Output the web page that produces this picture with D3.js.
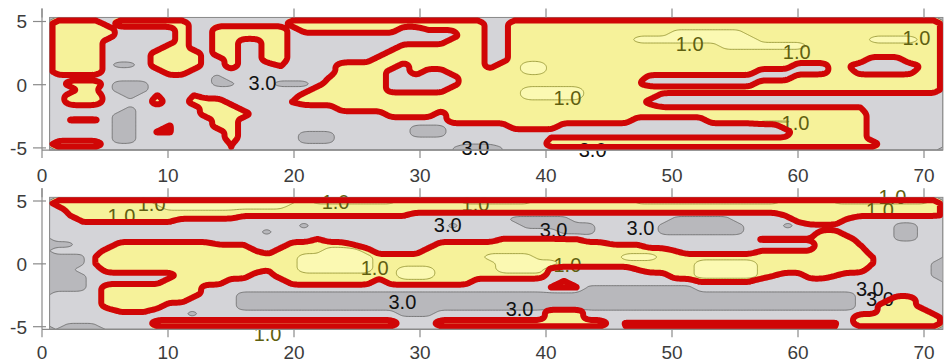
<!DOCTYPE html>
<html>
<head>
<meta charset="utf-8">
<script src="https://cdn.jsdelivr.net/npm/d3@7"></script>
<style>
  html, body { margin: 0; padding: 0; background: #fff; }
  svg { display: block; }
</style>
</head>
<body>
<div id="chart"></div>
<script>
// Two contour maps, x 0..72, y -5..5.
// Grid values: one digit per cell, value = digit / 2 (72 columns x 21 rows, top row first).
// Groups of ten columns are separated by spaces.
var topGrid = [
  "3333533333 3555555553 3333333333 3333355333 3333333333 3333333333 3333333333 33",
  "3333355555 3553333335 3333333355 4443355333 3333333333 3333333333 3333333333 33",
  "3333355555 3553333335 5555555555 5553355333 3333333333 1111113333 3333333333 33",
  "3333555555 3553355335 5555555555 5533355333 3333333111 1111111333 3333331111 33",
  "3333555553 3553355335 5555555533 3333355333 3333333333 3333111111 1333333333 33",
  "3333555533 3353355335 5555555333 3333355333 3333333333 3333333333 3333333333 33",
  "3333555533 3355355335 5555553333 3333355333 3333333333 3333333333 3333335553 33",
  "3333577533 3355355545 5553333353 3333353311 3333333333 3333333333 5553455555 43",
  "3333555553 3555555555 5553333553 5533333311 3333333333 3333333555 5553355555 33",
  "5555555555 5557555555 5543333555 5553333333 3333333355 5555555555 3333333333 33",
  "5333577755 5557755577 7533333555 5553333333 3333333455 5555555333 3333333333 33",
  "5534577755 5555555555 5333333555 5533333311 1113333333 3333333333 3333333333 33",
  "5333557545 5455555555 3333333333 3333333311 1113333335 5555555555 5555555555 55",
  "5333555535 5333555554 3333333333 3333333333 3333333355 5555555555 5555555555 55",
  "5555557555 5533355555 5553333333 3333333333 3333333334 4444444444 4444445555 55",
  "5555577555 5533335555 5555555333 3533333333 3333333333 3333333333 3333335555 55",
  "5444577555 5553355555 5555555555 5533333333 3333333555 5553333222 3333335555 55",
  "5555577554 5553355555 5555555557 7755555333 3555555555 5555555553 3333335555 55",
  "5555577544 5555355555 7775555557 7755555555 5555555555 5555555555 3333335555 55",
  "5555577555 5555355555 7775555555 5555555555 4444444444 4444444444 3333335555 55",
  "3333555555 5555455555 5555555555 5567776555 3333333333 3333333333 3333333555 55"
];

var bottomGrid = [
  "3333333311 1111111111 3111111133 3331111113 3333333111 1111111113 3331111111 13",
  "5333333331 1111111113 3333333333 3333333333 3333333333 3333333333 3333333333 33",
  "5433333333 3333344444 4444444445 5555555555 5555555555 5555555554 3333344444 44",
  "5544444444 5555555555 5555555555 5555555777 7755555555 7777755555 4333555555 55",
  "5555555555 5555555555 7555555555 5575555577 7777555557 7777775557 5555555577 55",
  "5555555555 5555555755 5555555555 5555555555 5777555557 7777775555 5533555577 55",
  "5555555555 5555555555 5455555555 5555554444 4445555555 5555555444 4433355577 55",
  "7755533333 3334445553 3333455555 5333333333 3333344455 5555555555 5533345555 55",
  "5555333333 3333334533 3311135555 3333333333 3333333333 4555555444 4433335555 55",
  "7774333333 3333333333 1111113333 3333311113 3333331113 3333333333 3333334555 55",
  "7774333333 3333333333 1111113333 3333331111 1333333333 3311111333 3333334555 57",
  "7755333333 3333333433 1111113311 1333331111 5555555433 3311111333 3333335555 57",
  "7775555555 3333335533 3333333311 1333333333 5555555555 3311111345 5334555555 57",
  "7775555553 3333555553 3333335333 3333555555 5455555555 5544444555 5555555555 55",
  "7775333333 3355555555 5555555555 5555555555 4447777777 7755555555 5555555555 55",
  "5555333333 3355577777 7777777777 7777777777 7777777777 7777777777 7777755555 55",
  "5555333333 3555577777 7777777777 7777777777 7777777777 7777777777 7777755533 55",
  "5555333335 5555577777 7777777777 7777777777 7777777777 7777777777 7777755333 55",
  "5555544455 5755555555 5555555577 7555555555 3335555555 5555555555 5555555333 35",
  "5555555555 5555555555 5555555555 5555555555 3335555555 5555555555 5555533333 33",
  "5777555533 3333333333 3333333355 5333333333 3333354444 4444444444 4444533333 33"
];

// contour levels: 1.0 (thin olive), 2.0 (thick red), 3.0 (thin grey)
var levels = [1.0, 2.0, 3.0];

var xTicks = [0, 10, 20, 30, 40, 50, 60, 70];
var yTicks = [-5, 0, 5];

// contour labels [x, y, text]
var topLabels = [
  [17.5, 0.1, "3.0"], [51.4, 3.2, "1.0"], [59.9, 2.6, "1.0"], [69.4, 3.7, "1.0"],
  [41.7, -1.05, "1.0"], [59.8, -3.0, "1.0"], [34.4, -5.0, "3.0"], [43.7, -5.2, "3.0"]
];
var bottomLabels = [
  [8.7, 4.8, "1.0"], [6.3, 3.8, "1.0"], [23.3, 4.9, "1.0"], [34.4, 4.8, "1.0"],
  [67.5, 5.3, "1.0"], [66.5, 4.3, "1.0"], [32.2, 3.1, "3.0"], [40.6, 2.7, "3.0"],
  [47.5, 2.85, "3.0"], [26.4, -0.3, "1.0"], [41.7, -0.1, "1.0"], [28.6, -3.0, "3.0"],
  [37.9, -3.6, "3.0"], [65.7, -2.0, "3.0"], [66.5, -2.8, "3.0"], [17.9, -5.6, "1.0"]
];

var COLS = 72, ROWS = 21;
var W = 951, H = 364;

var svg = d3.select("#chart").append("svg")
  .attr("width", W)
  .attr("height", H);

var x = d3.scaleLinear().domain([0, 70]).range([42, 924]);

var panels = [
  { grid: topGrid, labels: topLabels, yTop: 5.32, yBottom: -5.17,
    y: d3.scaleLinear().domain([-5, 5]).range([147.9, 21.5]), labelY: 182 },
  { grid: bottomGrid, labels: bottomLabels, yTop: 5.29, yBottom: -5.21,
    y: d3.scaleLinear().domain([-5, 5]).range([326.7, 201]), labelY: 359 }
];

function gridValues(rows) {
  var out = [];
  rows.forEach(function (r) {
    r.replace(/ /g, "").split("").forEach(function (ch) { out.push(+ch * 0.5); });
  });
  return out;
}

// points lying on the grid border stay fixed while smoothing
function onEdge(p) {
  return p[0] <= 1e-6 || p[0] >= COLS - 1e-6 || p[1] <= 1e-6 || p[1] >= ROWS - 1e-6;
}

// corner cutting so the contour rings look rounded
function smoothRing(ring, passes) {
  var pts = ring.slice(0, -1);
  for (var k = 0; k < passes; k++) {
    var out = [], n = pts.length;
    for (var i = 0; i < n; i++) {
      var a = pts[i], b = pts[(i + 1) % n];
      var pa = onEdge(a), pb = onEdge(b);
      if (pa) out.push(a);
      if (pa && pb) continue;
      out.push([0.75 * a[0] + 0.25 * b[0], 0.75 * a[1] + 0.25 * b[1]]);
      out.push([0.25 * a[0] + 0.75 * b[0], 0.25 * a[1] + 0.75 * b[1]]);
    }
    pts = out;
  }
  return pts;
}

function smoothContour(contour) {
  return contour.coordinates.map(function (poly) {
    return poly.map(function (ring) { return smoothRing(ring, 3); });
  });
}

function contourPath(polys, sx, sy) {
  var line = d3.line()
    .x(function (d) { return sx(d[0]); })
    .y(function (d) { return sy(d[1]); })
    .curve(d3.curveLinearClosed);
  return polys.map(function (poly) {
    return poly.map(function (ring) { return line(ring); }).join("");
  }).join("");
}

var colors = {
  dark: "#b8b8bc",
  light: "#d4d4d8",
  yellow: "#f6f29a",
  bright: "#fbf9b2",
  red: "#d00606",
  olive: "#8f8f2e",
  grey: "#666666",
  axis: "#8a8a8a",
  text: "#3c3c3c"
};

var font = "Liberation Sans, Arial, sans-serif";

panels.forEach(function (p, k) {
  var left = x(0.6), right = x(71.5);
  var top = p.y(p.yTop), bottom = p.y(p.yBottom);

  // negate so each contour polygon is the region "value <= level"
  var values = gridValues(p.grid).map(function (v) { return -v; });
  var contours = d3.contours()
    .size([COLS, ROWS])
    .thresholds(levels.map(function (l) { return -(l + 0.05); }))(values);
  // contours come back sorted by threshold: level 3, level 2, level 1
  var c3 = smoothContour(contours[0]),
      c2 = smoothContour(contours[1]),
      c1 = smoothContour(contours[2]);

  var gx = d3.scaleLinear().domain([0, COLS]).range([left, right]);
  var gy = d3.scaleLinear().domain([0, ROWS]).range([top, bottom]);
  // red line is drawn slightly inset so it sits inside the frame
  var rx = d3.scaleLinear().domain([0, COLS]).range([left + 3, right - 3]);
  var ry = d3.scaleLinear().domain([0, ROWS]).range([top + 3, bottom - 3]);

  svg.append("clipPath").attr("id", "clip" + k)
    .append("rect")
    .attr("x", left).attr("y", top)
    .attr("width", right - left).attr("height", bottom - top);

  var g = svg.append("g").attr("clip-path", "url(#clip" + k + ")");

  g.append("rect")
    .attr("x", left).attr("y", top)
    .attr("width", right - left).attr("height", bottom - top)
    .attr("fill", colors.dark);

  g.append("path").attr("d", contourPath(c3, gx, gy)).attr("fill", colors.light);
  g.append("path").attr("d", contourPath(c2, gx, gy)).attr("fill", colors.yellow);
  g.append("path").attr("d", contourPath(c1, gx, gy)).attr("fill", colors.bright);

  g.append("path").attr("d", contourPath(c3, gx, gy))
    .attr("fill", "none").attr("stroke", colors.grey).attr("stroke-width", 0.8);
  g.append("path").attr("d", contourPath(c1, gx, gy))
    .attr("fill", "none").attr("stroke", colors.olive).attr("stroke-width", 0.8);

  // contour labels
  svg.selectAll(null)
    .data(p.labels)
    .enter()
    .append("text")
    .attr("x", function (d) { return x(d[0]); })
    .attr("y", function (d) { return p.y(d[1]); })
    .attr("dy", "0.35em")
    .attr("text-anchor", "middle")
    .attr("font-family", font)
    .attr("font-size", "20px")
    .attr("fill", function (d) { return d[2] === "1.0" ? "#5f5f10" : "#111"; })
    .text(function (d) { return d[2]; });

  // frame
  svg.append("rect")
    .attr("x", left).attr("y", top)
    .attr("width", right - left).attr("height", bottom - top)
    .attr("fill", "none")
    .attr("stroke", colors.axis)
    .attr("stroke-width", 1);

  // thick red contour
  svg.append("path").attr("d", contourPath(c2, rx, ry))
    .attr("fill", "none")
    .attr("stroke", colors.red)
    .attr("stroke-width", 6)
    .attr("stroke-linejoin", "round");

  // axes
  var ax = svg.append("g")
    .attr("stroke", colors.axis)
    .attr("stroke-width", 1.2);

  ax.append("line")
    .attr("x1", x(0)).attr("x2", x(0))
    .attr("y1", top - 9).attr("y2", bottom);
  ax.append("line")
    .attr("x1", x(0)).attr("x2", right)
    .attr("y1", bottom).attr("y2", bottom);

  xTicks.forEach(function (t) {
    ax.append("line")
      .attr("x1", x(t)).attr("x2", x(t))
      .attr("y1", bottom).attr("y2", bottom + 8);
    ax.append("line")
      .attr("x1", x(t)).attr("x2", x(t))
      .attr("y1", top - 9).attr("y2", top);
  });
  yTicks.forEach(function (t) {
    ax.append("line")
      .attr("x1", x(0) - 9).attr("x2", x(0) + 4)
      .attr("y1", p.y(t)).attr("y2", p.y(t));
  });

  svg.selectAll(null)
    .data(xTicks)
    .enter()
    .append("text")
    .attr("x", function (d) { return x(d); })
    .attr("y", p.labelY)
    .attr("text-anchor", "middle")
    .attr("font-family", font)
    .attr("font-size", "19px")
    .attr("fill", colors.text)
    .text(function (d) { return d; });

  svg.selectAll(null)
    .data(yTicks)
    .enter()
    .append("text")
    .attr("x", 27)
    .attr("y", function (d) { return p.y(d); })
    .attr("dy", "0.36em")
    .attr("text-anchor", "end")
    .attr("font-family", font)
    .attr("font-size", "19px")
    .attr("fill", colors.text)
    .text(function (d) { return d; });
});
</script>
</body>
</html>
